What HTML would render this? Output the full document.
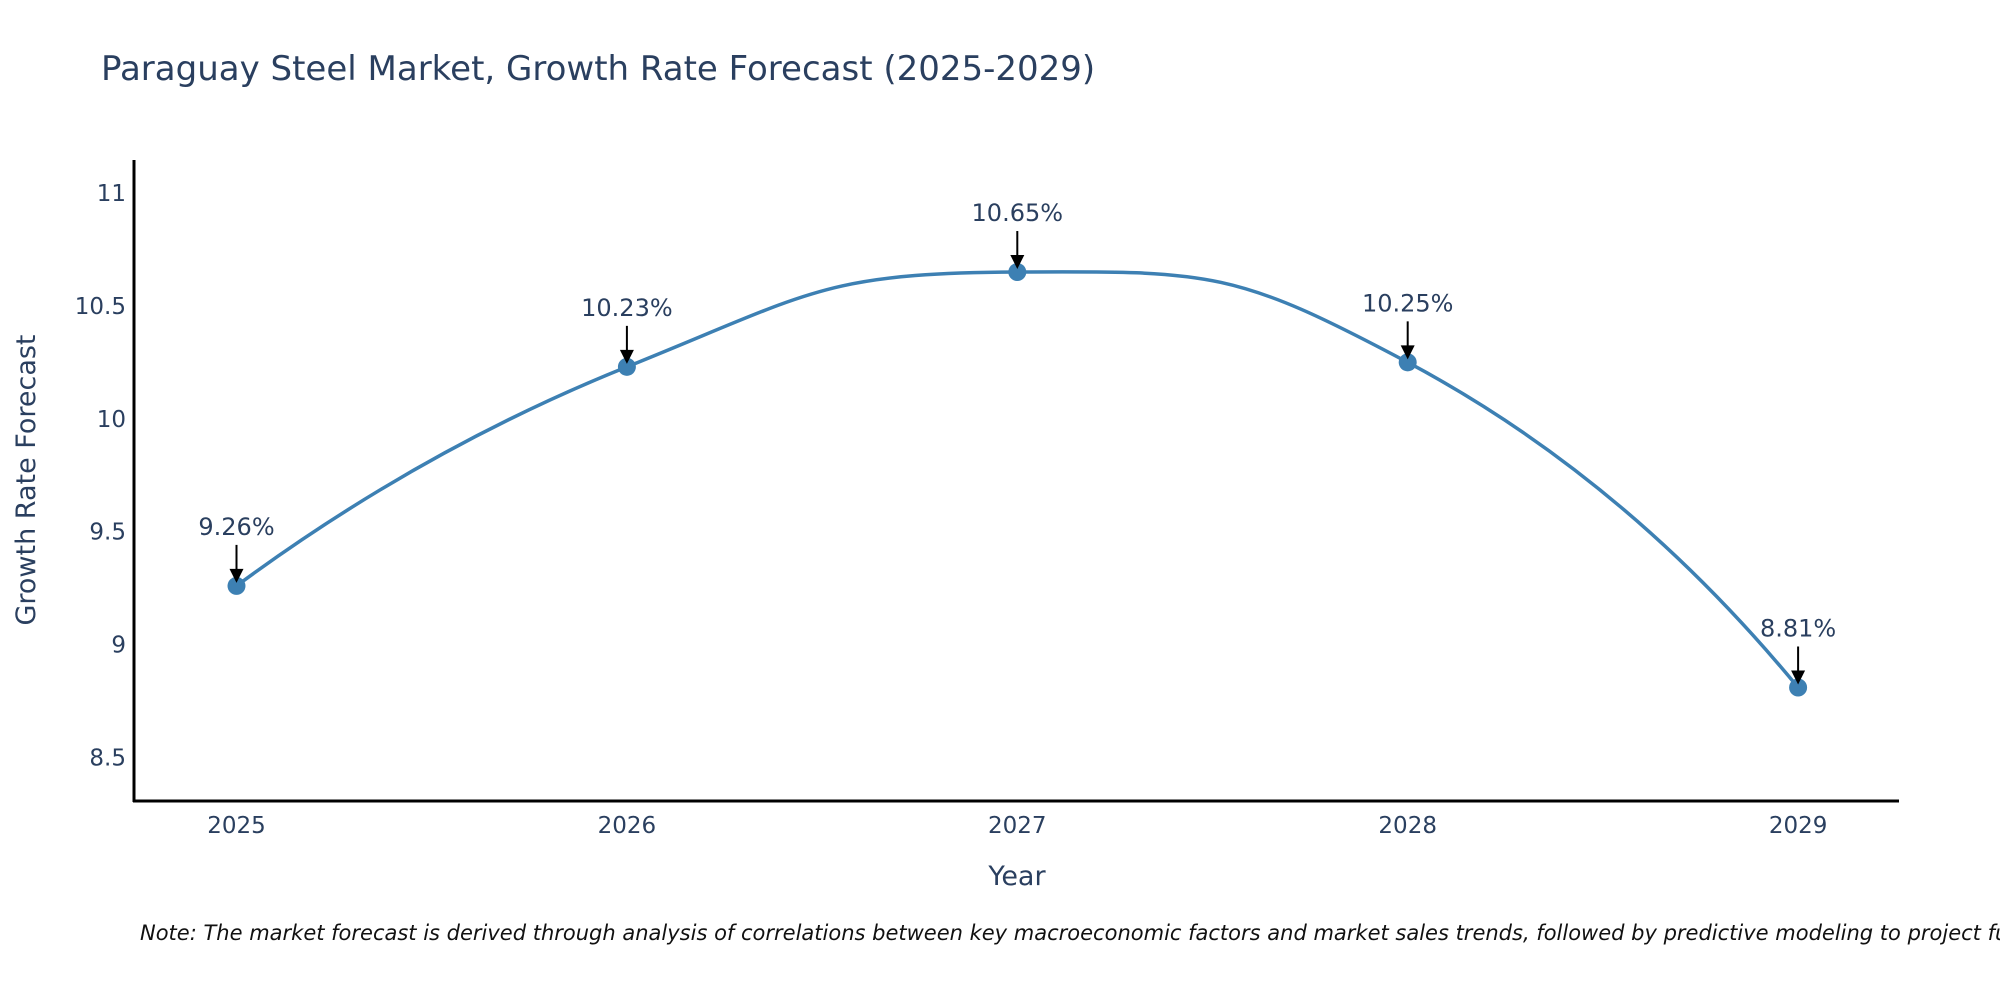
<!DOCTYPE html>
<html><head><meta charset="utf-8"><style>
body{margin:0;background:#fff;width:2000px;height:1000px;overflow:hidden}
svg text{font-family:"DejaVu Sans","Liberation Sans",sans-serif;fill:#2a3f5f}
</style></head><body>
<svg id="chart" width="2000" height="1000" xmlns="http://www.w3.org/2000/svg">
<text x="101" y="80" font-size="34">Paraguay Steel Market, Growth Rate Forecast (2025-2029)</text>
<g id="plot"></g>
<text x="1017" y="885" font-size="27" text-anchor="middle">Year</text>
<text transform="translate(35,480) rotate(-90)" font-size="27" text-anchor="middle">Growth Rate Forecast</text>
<text x="140" y="940" font-size="21" font-style="italic" style="fill:#111">Note: The market forecast is derived through analysis of correlations between key macroeconomic factors and market sales trends, followed by predictive modeling to project future sales.</text>
</svg>
<script>
const years=[2025,2026,2027,2028,2029];
const values=[9.26,10.23,10.65,10.25,8.81];
const labels=["9.26%","10.23%","10.65%","10.25%","8.81%"];
const yTicks=[8.5,9,9.5,10,10.5,11];
const NS="http://www.w3.org/2000/svg";
const g=document.getElementById('plot');
const X=v=>236.5+(v-2025)*390.4;
const Y=v=>193+(11-v)*225.8;
function mk(t,a){const e=document.createElementNS(NS,t);for(const k in a)e.setAttribute(k,a[k]);g.appendChild(e);return e;}
let ax=mk('line',{x1:134,y1:160,x2:134,y2:802,stroke:'#000','stroke-width':3});


ax=mk('line',{x1:133,y1:801,x2:1899,y2:801,stroke:'#000','stroke-width':3});


yTicks.forEach(t=>{const e=mk('text',{x:126,y:Y(t)+8,'font-size':23,'text-anchor':'end'});e.textContent=String(t);

});
years.forEach(t=>{const e=mk('text',{x:X(t),y:833,'font-size':23,'text-anchor':'middle'});e.textContent=String(t);

});
// plotly-like spline: interior tangents, quadratic end segments
const P=years.map((y,i)=>[X(y),Y(values[i])]);
const s=0.5;const C=[];
for(let i=1;i<P.length-1;i++){
 const a=P[i-1],b=P[i],c=P[i+1];
 const d1=Math.hypot(b[0]-a[0],b[1]-a[1]),d2=Math.hypot(c[0]-b[0],c[1]-b[1]);
 const dx=c[0]-a[0],dy=c[1]-a[1];
 C[i]=[[b[0]-dx*s*d1/(d1+d2),b[1]-dy*s*d1/(d1+d2)],[b[0]+dx*s*d2/(d1+d2),b[1]+dy*s*d2/(d1+d2)]];
}
const n=P.length;
let d=`M${P[0][0]},${P[0][1]} Q${C[1][0][0]},${C[1][0][1]} ${P[1][0]},${P[1][1]}`;
for(let i=1;i<n-2;i++){d+=` C${C[i][1][0]},${C[i][1][1]} ${C[i+1][0][0]},${C[i+1][0][1]} ${P[i+1][0]},${P[i+1][1]}`;}
d+=` Q${C[n-2][1][0]},${C[n-2][1][1]} ${P[n-1][0]},${P[n-1][1]}`;
const line=mk('path',{d:d,fill:'none',stroke:'#3d80b3','stroke-width':3.5});


P.forEach((p,i)=>{const c=mk('circle',{cx:p[0],cy:p[1],r:9,fill:'#3d80b3'});


const a=mk('line',{x1:p[0],y1:p[1]-41,x2:p[0],y2:p[1]-14,stroke:'#000','stroke-width':2});


const h=mk('polygon',{points:`${p[0]-7},${p[1]-17} ${p[0]+7},${p[1]-17} ${p[0]},${p[1]-3}`,fill:'#000'});


const t=mk('text',{x:p[0],y:p[1]-51,'font-size':24,'text-anchor':'middle'});t.textContent=labels[i];

});
</script>
</body></html>
